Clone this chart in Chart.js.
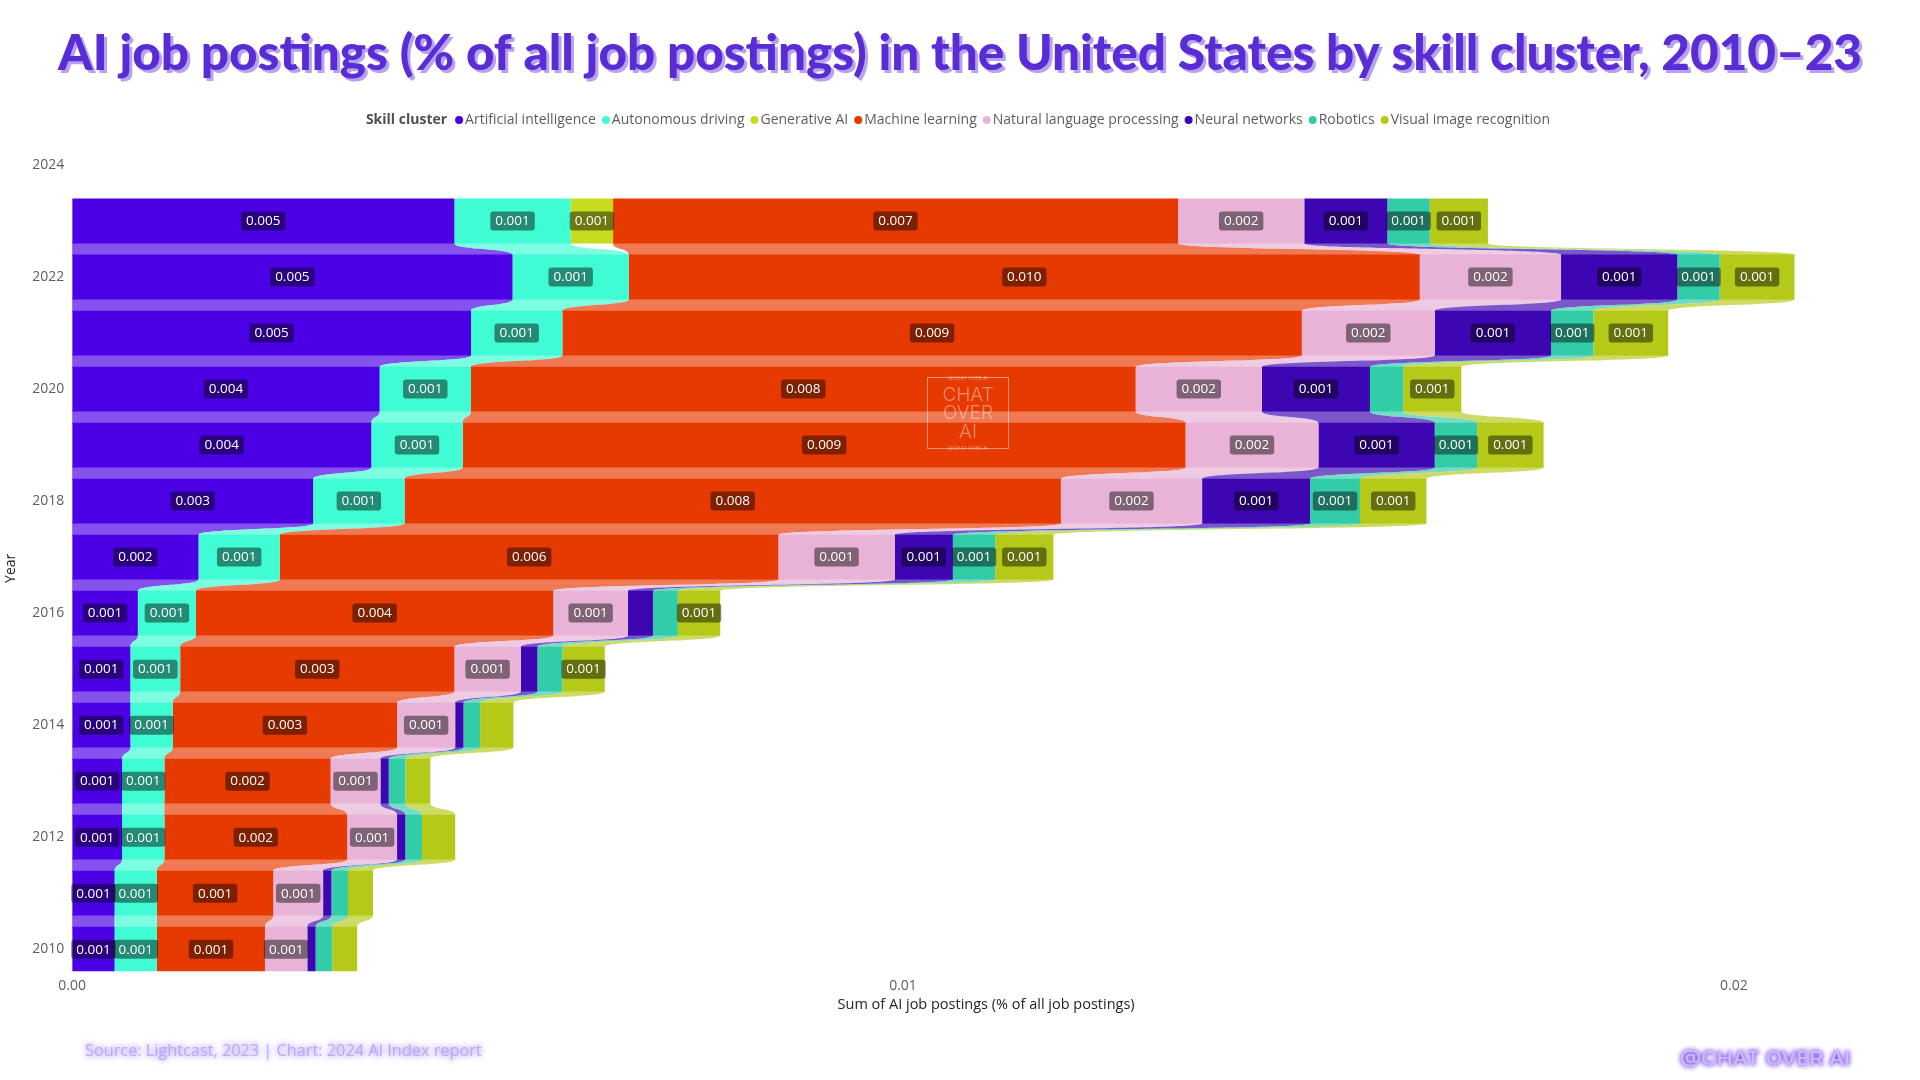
<!DOCTYPE html>
<html>
<head>
<meta charset="utf-8">
<title>AI job postings by skill cluster</title>
<script src="https://cdn.jsdelivr.net/npm/chart.js@4.4.1/dist/chart.umd.min.js"></script>
<style>
  html, body { margin: 0; padding: 0; background: #fff; overflow: hidden; }
  #wrap { width: 1920px; height: 1080px; }
</style>
</head>
<body>
<div id="wrap"><canvas id="postingsChart" width="1920" height="1080"></canvas></div>
<script>
// data (share of all US job postings, %)
const years = [2010, 2011, 2012, 2013, 2014, 2015, 2016, 2017, 2018, 2019, 2020, 2021, 2022, 2023]
const clusters = ['Artificial intelligence', 'Autonomous driving', 'Generative AI', 'Machine learning',
    'Natural language processing', 'Neural networks', 'Robotics', 'Visual image recognition']
const artificialIntelligence = [0.00051, 0.00051, 0.0006, 0.0006, 0.0007, 0.0007, 0.00079, 0.00152, 0.0029, 0.0036, 0.0037, 0.0048, 0.0053, 0.0046]
const autonomousDriving = [0.00051, 0.00051, 0.00051, 0.00051, 0.00051, 0.0006, 0.0007, 0.00098, 0.0011, 0.0011, 0.0011, 0.0011, 0.0014, 0.0014]
const generativeAI = [0, 0, 0, 0, 0, 0, 0, 0, 0, 0, 0, 0, 0, 0.00051]
const machineLearning = [0.0013, 0.0014, 0.0022, 0.0020, 0.0027, 0.0033, 0.0043, 0.0060, 0.0079, 0.0087, 0.0080, 0.0089, 0.00952, 0.0068]
const naturalLanguage = [0.00051, 0.0006, 0.0006, 0.0006, 0.0007, 0.0008, 0.0009, 0.0014, 0.0017, 0.0016, 0.00152, 0.0016, 0.0017, 0.00152]
const neuralNetworks = [0.0001, 0.0001, 0.0001, 0.0001, 0.0001, 0.0002, 0.0003, 0.0007, 0.0013, 0.0014, 0.0013, 0.0014, 0.0014, 0.0010]
const robotics = [0.0002, 0.0002, 0.0002, 0.0002, 0.0002, 0.0003, 0.0003, 0.00051, 0.0006, 0.00051, 0.0004, 0.00051, 0.00051, 0.00051]
const visualImage = [0.0003, 0.0003, 0.0004, 0.0003, 0.0004, 0.00051, 0.00051, 0.0007, 0.0008, 0.0008, 0.0007, 0.0009, 0.0009, 0.0007]
const xTicks = [0, 0.01, 0.02]
const yTicks = [2010, 2012, 2014, 2016, 2018, 2020, 2022, 2024]

const seriesValues = [artificialIntelligence, autonomousDriving, generativeAI, machineLearning,
    naturalLanguage, neuralNetworks, robotics, visualImage]
const colors = ['#4b00e6', '#40fcd4', '#c6dc1e', '#e63a00', '#e8b3d6', '#3c07b3', '#33cca9', '#b5c919']

function hexToRgba(hex, a) {
    let n = parseInt(hex.slice(1), 16)
    return `rgba(${n >> 16}, ${(n >> 8) & 255}, ${n & 255}, ${a})`
}

const uiFont = '"Open Sans", "Noto Sans", sans-serif'

// Ribbons between the bars of consecutive years
const ribbonPlugin = {
    id: 'ribbons',
    beforeDatasetsDraw(chart) {
        let ctx = chart.ctx
        chart.data.datasets.forEach((ds, i) => {
            let meta = chart.getDatasetMeta(i)
            ctx.save()
            ctx.fillStyle = hexToRgba(ds.backgroundColor, 0.68)
            for (let j = 0; j < meta.data.length - 1; j++) {
                if (!ds.data[j].x || !ds.data[j + 1].x) continue
                let lo = meta.data[j]
                let up = meta.data[j + 1]
                let yA = up.y + up.height / 2
                let yB = lo.y - lo.height / 2
                let g = yB - yA
                let uL = Math.min(up.base, up.x), uR = Math.max(up.base, up.x)
                let lL = Math.min(lo.base, lo.x), lR = Math.max(lo.base, lo.x)
                ctx.beginPath()
                ctx.moveTo(uL, yA - 1)
                ctx.lineTo(uL, yA)
                ctx.bezierCurveTo(uL, yA + g * 0.55, lL, yB - g * 0.55, lL, yB)
                ctx.lineTo(lL, yB + 1)
                ctx.lineTo(lR, yB + 1)
                ctx.lineTo(lR, yB)
                ctx.bezierCurveTo(lR, yB - g * 0.55, uR, yA + g * 0.55, uR, yA)
                ctx.lineTo(uR, yA - 1)
                ctx.closePath()
                ctx.fill()
            }
            ctx.restore()
        })
    }
}

// Value boxes in the middle of each segment that is wide enough
const valueLabelPlugin = {
    id: 'valueLabels',
    afterDatasetsDraw(chart) {
        let ctx = chart.ctx
        ctx.save()
        ctx.font = '13.5px ' + uiFont
        ctx.textAlign = 'center'
        ctx.textBaseline = 'middle'
        chart.data.datasets.forEach((ds, i) => {
            chart.getDatasetMeta(i).data.forEach((bar, j) => {
                let v = ds.data[j].x
                let w = Math.abs(bar.x - bar.base)
                if (!v || w < 38) return
                let txt = v.toFixed(3)
                let tw = ctx.measureText(txt).width
                let cx = (bar.x + bar.base) / 2
                ctx.fillStyle = 'rgba(0, 0, 0, 0.45)'
                ctx.beginPath()
                ctx.roundRect(cx - tw / 2 - 5, bar.y - 9.5, tw + 10, 19, 3)
                ctx.fill()
                ctx.fillStyle = '#ffffff'
                ctx.fillText(txt, cx, bar.y + 0.5)
            })
        })
        ctx.restore()
    }
}

function fittedText(ctx, text, cx, y, width, font) {
    ctx.font = font
    let w = ctx.measureText(text).width
    ctx.save()
    ctx.translate(cx, y)
    ctx.scale(width / w, 1)
    ctx.textAlign = 'center'
    ctx.fillText(text, 0, 0)
    ctx.restore()
}

// Title, legend, footer and watermark
const decorPlugin = {
    id: 'decor',
    afterDraw(chart) {
        let ctx = chart.ctx
        let title = 'AI job postings (% of all job postings) in the United States by skill cluster, 2010\u201323'
        let titleFont = '900 49px Lato, Roboto, sans-serif'
        ctx.save()
        ctx.textBaseline = 'alphabetic'
        ctx.fillStyle = '#b6a2f0'
        fittedText(ctx, title, 963, 73, 1804, titleFont)
        ctx.fillStyle = '#5a2cd6'
        fittedText(ctx, title, 960, 70, 1804, titleFont)

        // legend
        let items = clusters.map((c, i) => ({ text: c, color: colors[i] }))
        let boldFont = 'bold 14px ' + uiFont
        let normFont = '14px ' + uiFont
        ctx.font = boldFont
        let total = ctx.measureText('Skill cluster').width + 8
        ctx.font = normFont
        items.forEach(it => { it.w = ctx.measureText(it.text).width; total += 10 + it.w + 6 })
        total -= 6
        let x = 958 - total / 2
        let y = 120
        ctx.textBaseline = 'middle'
        ctx.textAlign = 'left'
        ctx.font = boldFont
        ctx.fillStyle = '#505050'
        ctx.fillText('Skill cluster', x, y)
        x += ctx.measureText('Skill cluster').width + 8
        ctx.font = normFont
        items.forEach(it => {
            ctx.fillStyle = it.color
            ctx.beginPath()
            ctx.arc(x + 4, y, 4, 0, Math.PI * 2)
            ctx.fill()
            ctx.fillStyle = '#605e5c'
            ctx.fillText(it.text, x + 10, y)
            x += 10 + it.w + 6
        })

        // footer
        ctx.shadowColor = 'rgba(120, 70, 235, 0.95)'
        ctx.shadowBlur = 6
        ctx.fillStyle = '#bca8f8'
        ctx.font = '16.3px ' + uiFont
        ctx.fillText('Source: Lightcast, 2023 | Chart: 2024 AI Index report', 85, 1051)
        ctx.shadowColor = 'rgba(110, 60, 230, 1)'
        ctx.shadowBlur = 5
        ctx.fillStyle = '#cdbcfc'
        fittedText(ctx, '@CHAT OVER AI', 1765, 1060, 170, '500 18px Inter, sans-serif')
        fittedText(ctx, '@CHAT OVER AI', 1765, 1060, 170, '500 18px Inter, sans-serif')
        ctx.shadowBlur = 0

        // watermark
        ctx.strokeStyle = 'rgba(255, 255, 255, 0.45)'
        ctx.lineWidth = 1
        ctx.strokeRect(927.5, 377.5, 81, 71)
        ctx.fillStyle = 'rgba(255, 255, 255, 0.42)'
        ctx.textAlign = 'center'
        ctx.font = '300 19px Inter, sans-serif'
        ctx.fillText('CHAT', 968, 395)
        ctx.fillText('OVER', 968, 413)
        ctx.fillText('AI', 968, 432)
        ctx.font = '5px Inter, sans-serif'
        ctx.fillText('@CHAT OVER AI', 968, 378)
        ctx.fillText('@CHAT OVER AI', 968, 448)
        ctx.restore()
    }
}

let ctx = document.getElementById('postingsChart')
let chart = new Chart(ctx, {
    type: 'bar',
    data: {
        datasets: clusters.map((name, i) => ({
            label: name,
            data: years.map((yr, j) => ({ x: seriesValues[i][j], y: yr })),
            backgroundColor: colors[i],
            borderWidth: 0,
            barPercentage: 1,
            categoryPercentage: 0.8
        }))
    },
    options: {
        indexAxis: 'y',
        responsive: false,
        devicePixelRatio: 1,
        animation: false,
        layout: { padding: { top: 165, left: 0, right: 20, bottom: 0 } },
        plugins: {
            legend: { display: false },
            title: { display: false },
            tooltip: { enabled: false }
        },
        scales: {
            x: {
                type: 'linear',
                stacked: true,
                min: 0,
                max: 0.022,
                grid: { display: false, drawTicks: false },
                border: { display: false },
                afterBuildTicks: scale => { scale.ticks = xTicks.map(v => ({ value: v })) },
                ticks: {
                    padding: 6,
                    color: '#605e5c',
                    font: { family: uiFont, size: 14 },
                    callback: v => Number(v).toFixed(2)
                },
                title: {
                    display: true,
                    text: 'Sum of AI job postings (% of all job postings)',
                    color: '#252423',
                    font: { family: uiFont, size: 14.5 },
                    padding: { top: 4, bottom: 66 }
                },
                afterFit: scale => { scale.height = 108.4 }
            },
            y: {
                type: 'linear',
                stacked: true,
                offset: false,
                min: 2009.6,
                max: 2024,
                grid: { display: false, drawTicks: false },
                border: { display: false },
                afterBuildTicks: scale => { scale.ticks = yTicks.map(v => ({ value: v })) },
                ticks: {
                    padding: 8,
                    color: '#605e5c',
                    font: { family: uiFont, size: 14 },
                    callback: v => String(v)
                },
                title: {
                    display: true,
                    text: 'Year',
                    color: '#252423',
                    font: { family: uiFont, size: 14 },
                    padding: { top: 3, bottom: 0 }
                },
                afterFit: scale => { scale.width = 72.2 }
            }
        }
    },
    plugins: [ribbonPlugin, valueLabelPlugin, decorPlugin]
})
</script>
</body>
</html>
